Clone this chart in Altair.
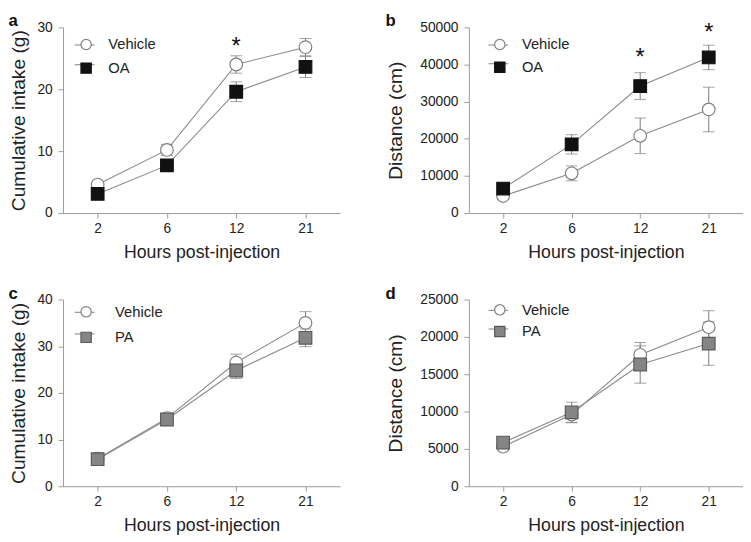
import altair as alt
import pandas as pd

hours = ["2", "6", "12", "21"]

# Panel a: cumulative intake (g), Vehicle vs OA
a_vehicle_mean = [4.6, 10.2, 24.0, 26.8]
a_vehicle_sem = [0.4, 0.9, 1.4, 1.4]
a_oa_mean = [3.1, 7.7, 19.6, 23.6]
a_oa_sem = [0.3, 0.4, 1.6, 1.7]
a_star_hours = ["12"]
a_star_y = [27.9]

# Panel b: distance (cm), Vehicle vs OA
b_vehicle_mean = [4600, 10700, 20800, 27900]
b_vehicle_sem = [500, 2000, 4800, 6000]
b_oa_mean = [6600, 18500, 34200, 41900]
b_oa_sem = [700, 2600, 3600, 3300]
b_star_hours = ["12", "21"]
b_star_y = [43500, 50300]

# Panel c: cumulative intake (g), Vehicle vs PA
c_vehicle_mean = [5.9, 14.6, 26.5, 35.0]
c_vehicle_sem = [0.5, 1.0, 1.8, 2.4]
c_pa_mean = [5.8, 14.3, 24.8, 31.8]
c_pa_sem = [0.4, 1.3, 1.7, 1.9]

# Panel d: distance (cm), Vehicle vs PA
d_vehicle_mean = [5300, 9600, 17600, 21300]
d_vehicle_sem = [500, 1100, 1650, 2200]
d_pa_mean = [5850, 9900, 16300, 19100]
d_pa_sem = [600, 1350, 2500, 2900]

FONT = "Liberation Sans"


def panel(label, ytitle, ymax, ystep, treat, v_mean, v_sem, t_mean, t_sem,
          t_fill, t_stroke, star_h, star_y, leg_x, leg_y, row_gap, label_off,
          width, height, ytitle_pad):
    rows = []
    for g, means, sems in (("Vehicle", v_mean, v_sem), (treat, t_mean, t_sem)):
        for h, m, s in zip(hours, means, sems):
            rows.append({"hour": h, "group": g, "stub": "_" + g, "mean": m,
                         "lo": m - s, "hi": m + s})
    df = pd.DataFrame(rows)
    groups = ["Vehicle", treat]

    xenc = alt.X("hour:O",
                 scale=alt.Scale(type="point", domain=hours, padding=0.5),
                 axis=alt.Axis(title="Hours post-injection", labelAngle=0,
                               titleFontSize=18, titlePadding=8, labelPadding=4))
    yscale = alt.Scale(domain=[0, ymax], nice=False)
    yaxis = alt.Axis(title=ytitle, values=list(range(0, ymax + 1, ystep)),
                     format="d", titleFontSize=19.5, titlePadding=ytitle_pad,
                     labelPadding=6)

    base = alt.Chart(df)
    line = base.mark_line(strokeWidth=1.1).encode(
        x=xenc,
        y=alt.Y("mean:Q", scale=yscale, axis=yaxis),
        color=alt.Color("stub:N",
                        scale=alt.Scale(domain=["_" + g for g in groups],
                                        range=["#8a8a8a", "#8a8a8a"]),
                        legend=alt.Legend(orient="none", legendX=leg_x - 5,
                                          legendY=leg_y - 3, title=None,
                                          symbolType="stroke", symbolSize=400,
                                          symbolStrokeWidth=1.1, labelExpr="''",
                                          labelFontSize=15, padding=0,
                                          rowPadding=row_gap - 21)),
    )
    bars = base.mark_rule(color="#7a7a7a", strokeWidth=1).encode(
        x=xenc, y=alt.Y("lo:Q", scale=yscale, axis=yaxis), y2="hi:Q")
    cap_lo = base.mark_tick(color="#7a7a7a", size=12, thickness=1).encode(
        x=xenc, y=alt.Y("lo:Q", scale=yscale, axis=yaxis))
    cap_hi = base.mark_tick(color="#7a7a7a", size=12, thickness=1).encode(
        x=xenc, y=alt.Y("hi:Q", scale=yscale, axis=yaxis))
    leg = dict(orient="none", legendX=leg_x, legendY=leg_y, title=None,
               symbolSize=110, symbolStrokeWidth=1.2, labelFontSize=15,
               labelOffset=label_off, padding=0, rowPadding=row_gap - 15)
    pts = base.mark_point(filled=True, size=165, strokeWidth=1.2, opacity=1).encode(
        x=xenc,
        y=alt.Y("mean:Q", scale=yscale, axis=yaxis),
        shape=alt.Shape("group:N", scale=alt.Scale(domain=groups, range=["circle", "square"]),
                        legend=alt.Legend(**leg)),
        fill=alt.Fill("group:N", scale=alt.Scale(domain=groups, range=["#ffffff", t_fill]),
                      legend=alt.Legend(**leg)),
        stroke=alt.Stroke("group:N", scale=alt.Scale(domain=groups, range=["#808080", t_stroke]),
                          legend=alt.Legend(**leg)),
    )
    layers = [line, bars, cap_lo, cap_hi, pts]
    if star_h:
        sdf = pd.DataFrame({"hour": star_h, "y": star_y})
        stars = alt.Chart(sdf).mark_text(text="*", fontSize=24, font=FONT,
                                         color="#111111", baseline="top",
                                         dy=-5).encode(
            x=xenc, y=alt.Y("y:Q", scale=yscale, axis=yaxis))
        layers.append(stars)
    return alt.layer(*layers).properties(
        width=width, height=height,
        title=alt.TitleParams(label, anchor="start", fontSize=17, fontWeight="bold",
                              font=FONT, color="#111111", offset=-10, frame="bounds"),
    )


pa = panel("a", "Cumulative intake (g)", 30, 10, "OA", a_vehicle_mean, a_vehicle_sem,
           a_oa_mean, a_oa_sem, "#111111", "#111111", a_star_hours, a_star_y,
           16, 10, 22, 15, 282, 189, 9)
pb = panel("b", "Distance (cm)", 50000, 10000, "OA", b_vehicle_mean, b_vehicle_sem,
           b_oa_mean, b_oa_sem, "#111111", "#111111", b_star_hours, b_star_y,
           24, 10, 21, 15, 279, 189, 15)
pc = panel("c", "Cumulative intake (g)", 40, 10, "PA", c_vehicle_mean, c_vehicle_sem,
           c_pa_mean, c_pa_sem, "#858585", "#5a5a5a", [], [],
           16, 5, 24, 22, 282, 190, 9)
pd_ = panel("d", "Distance (cm)", 25000, 5000, "PA", d_vehicle_mean, d_vehicle_sem,
            d_pa_mean, d_pa_sem, "#858585", "#5a5a5a", [], [],
            24, 3, 20, 15, 279, 190, 15)

chart = alt.concat(pa, pb, pc, pd_, columns=2, spacing={"row": 24, "column": 46}).resolve_scale(
    color="independent", fill="independent", stroke="independent", shape="independent",
    x="independent", y="independent",
).resolve_legend(
    color="independent", fill="independent", stroke="independent", shape="independent",
).properties(
    padding=0, background="white"
).configure_view(stroke=None).configure_axis(
    grid=False, domainColor="#9a9a9a", tickColor="#9a9a9a", tickSize=5,
    labelColor="#222222", titleColor="#222222", labelFont=FONT, titleFont=FONT,
    titleFontWeight="normal", labelFontSize=14,
).configure_legend(labelFont=FONT, labelColor="#222222")

chart.save("out.html", embed_options={"renderer": "svg", "actions": False})
